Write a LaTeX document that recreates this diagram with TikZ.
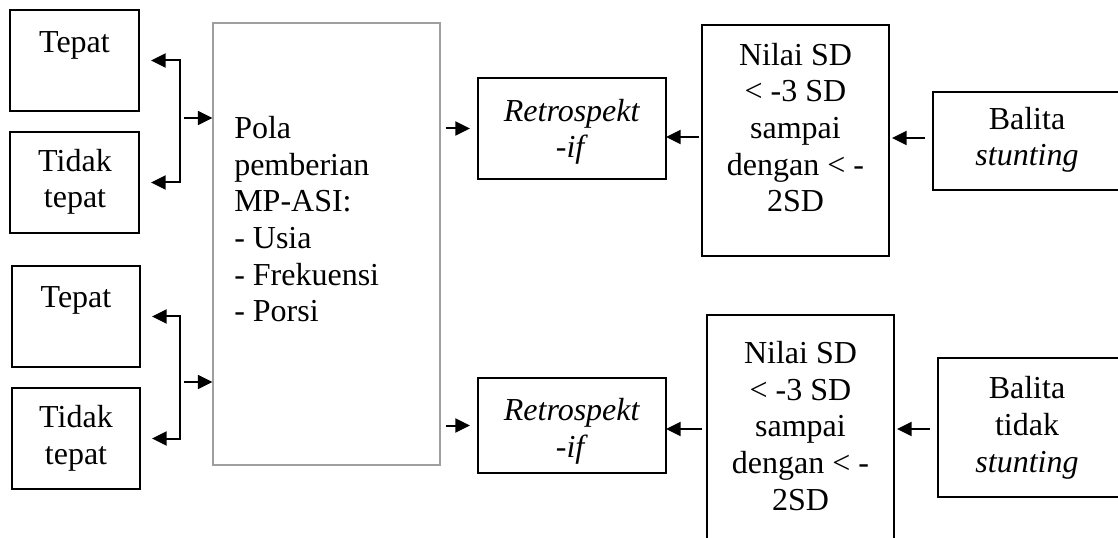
\documentclass[tikz,border=0pt]{standalone}
\usepackage{fontspec}
\setmainfont{Liberation Serif}
\usepackage{tikz}
\usetikzlibrary{arrows.meta,calc}

\tikzset{
  kotak/.style={draw, line width=1.7pt, inner sep=0pt, outer sep=0pt},
  ukuran/.style 2 args={minimum width=#1*0.75pt, minimum height=#2*0.75pt},
  tulisan/.style={inner sep=0pt, anchor=base, align=center},
  panah/.style={line width=1.5pt, -{Triangle[length=11pt,width=10.5pt]}},
}

\begin{document}
\begin{tikzpicture}[x=0.75pt,y=0.75pt,yscale=-1,xscale=1,
    font=\fontsize{24}{27.5}\selectfont]
        \clip (0,0) rectangle (1118,538);
        %Shape: Rectangle [kiri atas]
        \node [kotak, ukuran={129}{101}] (tepatA) at (74.5,60.5) {};
        \node [kotak, ukuran={129}{101}] (tidakA) at (74.5,182.5) {};
        %Shape: Rectangle [kiri bawah]
        \node [kotak, ukuran={128}{101}] (tepatB) at (76,316.5) {};
        \node [kotak, ukuran={128}{101}] (tidakB) at (76,438.5) {};
        %Shape: Rectangle [pola]
        \node [draw=gray!75, line width=0.8pt, inner sep=0pt, ukuran={227}{442}] (pola) at (326.5,244) {};
        %Shape: Rectangle [retrospektif]
        \node [kotak, ukuran={188}{101}] (retroA) at (572,128.5) {};
        \node [kotak, ukuran={188}{95}] (retroB) at (572,425.5) {};
        %Shape: Rectangle [nilai SD]
        \node [kotak, ukuran={187}{231}] (nilaiA) at (795.5,140.5) {};
        \node [kotak, ukuran={187}{245}] (nilaiB) at (800.5,437.5) {};
        %Shape: Rectangle [balita]
        \node [kotak, ukuran={197}{98}] (balitaA) at (1031.5,141) {};
        \node [kotak, ukuran={192}{139}] (balitaB) at (1034,427.5) {};

        % Text Node (anchor = baseline of the last line)
        \node [tulisan] (tepatAtxt) at (74.5,53) {Tepat};
        \node [tulisan] (tidakAtxt) at (75,208) {Tidak\\tepat};
        \node [tulisan] (tepatBtxt) at (76,308) {Tepat};
        \node [tulisan] (tidakBtxt) at (76,464) {Tidak\\tepat};
        \node [tulisan, anchor=base west, align=left] (polatxt) at (234,322)
            {Pola\\pemberian\\MP-ASI:\\- Usia\\- Frekuensi\\- Porsi};
        \node [tulisan] (retroAtxt) at (572,158) {\textit{Retrospekt}\\\textit{-if}};
        \node [tulisan] (retroBtxt) at (572,457) {\textit{Retrospekt}\\\textit{-if}};
        \node [tulisan] (nilaiAtxt) at (795.5,212) {Nilai SD\\< -3 SD\\sampai\\dengan < -\\2SD};
        \node [tulisan] (nilaiBtxt) at (800.5,510) {Nilai SD\\< -3 SD\\sampai\\dengan < -\\2SD};
        \node [tulisan] (balitaAtxt) at (1027,166) {Balita\\\textit{stunting}};
        \node [tulisan] (balitaBtxt) at (1027,472) {Balita\\tidak\\\textit{stunting}};

        %Connectors [kiri]
        \coordinate (cabangA) at (180,118);
        \coordinate (cabangB) at (180,382);
        \draw [panah, shorten >=12*0.75pt] (cabangA) |- (tepatA);
        \draw [panah, shorten >=12*0.75pt] (cabangA) |- (tidakA);
        \draw [panah, shorten <=4*0.75pt] (cabangA) -- (cabangA -| pola.west);
        \draw [panah, shorten >=12*0.75pt] (cabangB) |- (tepatB);
        \draw [panah, shorten >=12*0.75pt] (cabangB) |- (tidakB);
        \draw [panah, shorten <=4*0.75pt] (cabangB) -- (cabangB -| pola.west);
        %Connectors [kanan]
        \draw [panah, shorten <=5*0.75pt, shorten >=8*0.75pt] (retroA -| pola.east) -- (retroA.west);
        \draw [panah, shorten <=5*0.75pt, shorten >=8*0.75pt] (retroB -| pola.east) -- (retroB.west);
        \draw [panah, shorten <=3*0.75pt] (nilaiA.west |- 0,137) -- (retroA.east |- 0,137);
        \draw [panah, shorten <=5*0.75pt] (nilaiB.west |- 0,429) -- (retroB.east |- 0,429);
        \draw [panah, shorten <=8*0.75pt, shorten >=3*0.75pt] (balitaA.west |- 0,138) -- (nilaiA.east |- 0,138);
        \draw [panah, shorten <=8*0.75pt, shorten >=3*0.75pt] (balitaB.west |- 0,429) -- (nilaiB.east |- 0,429);
\end{tikzpicture}
\end{document}
